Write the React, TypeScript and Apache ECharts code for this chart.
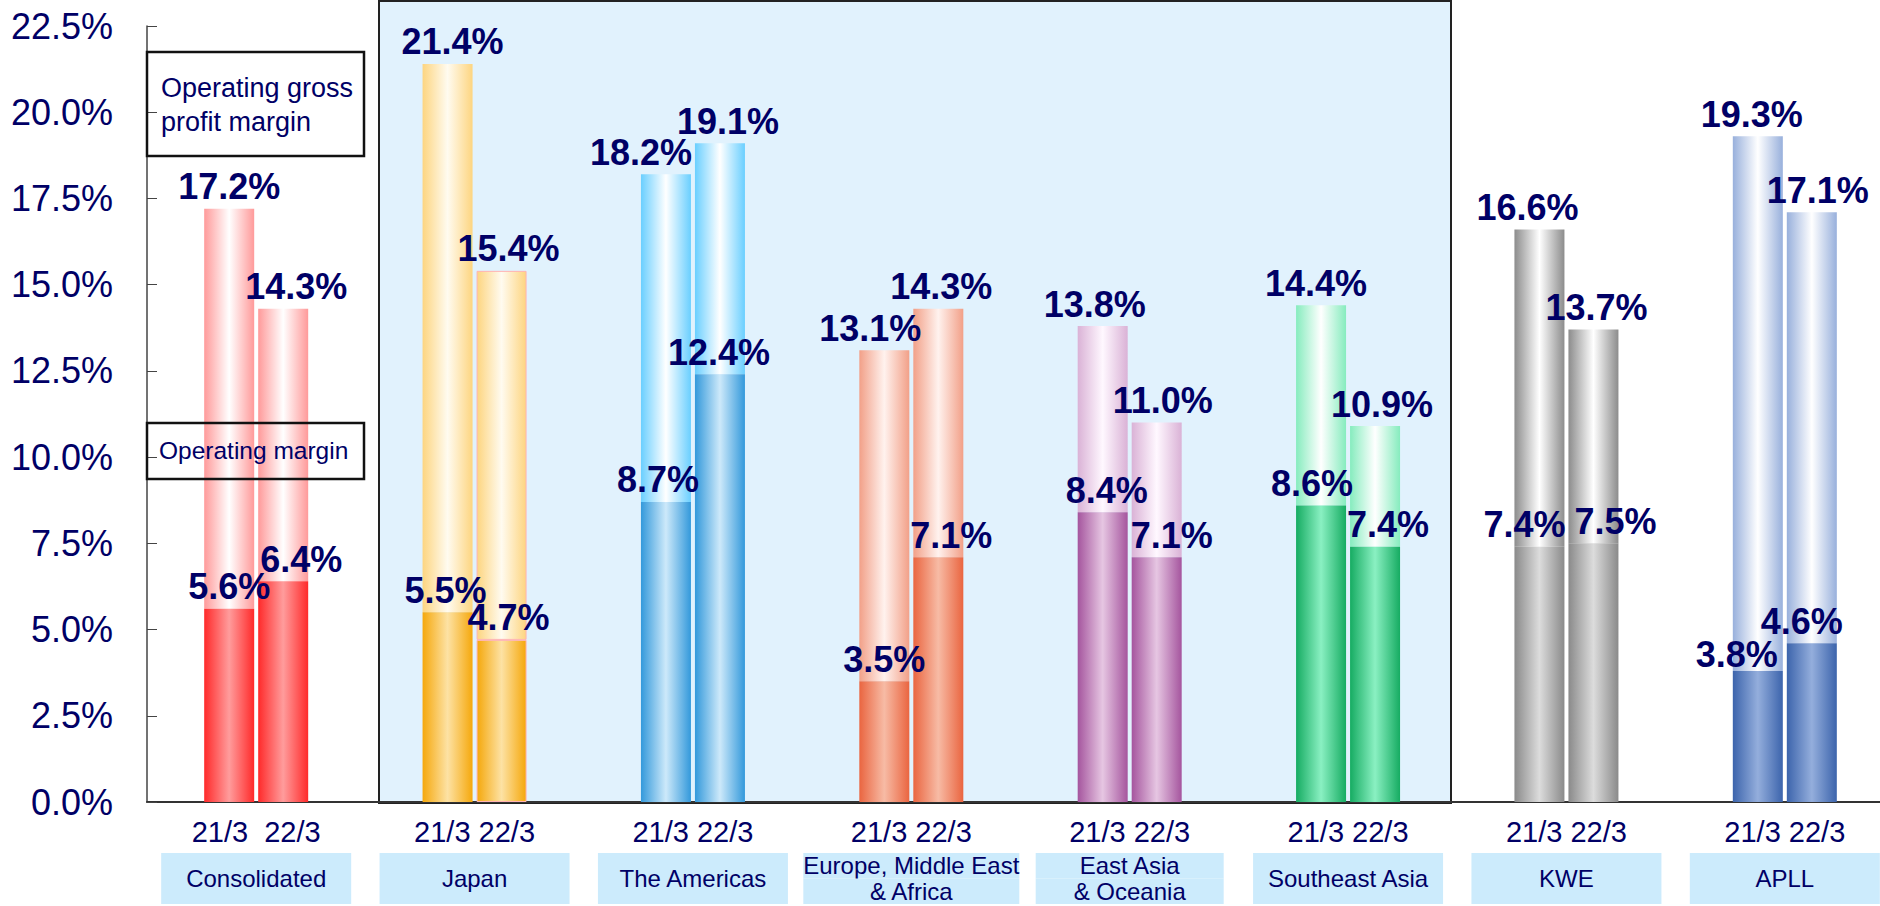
import React, { useEffect, useRef } from "react";
import * as echarts from "echarts";

const categories = [
  "Consolidated",
  "Japan",
  "The Americas",
  "Europe, Middle East\n& Africa",
  "East Asia\n& Oceania",
  "Southeast Asia",
  "KWE",
  "APLL",
];
const periods = ["21/3", "22/3"];
const grossMargin21 = [17.2, 21.4, 18.2, 13.1, 13.8, 14.4, 16.6, 19.3];
const grossMargin22 = [14.3, 15.4, 19.1, 14.3, 11.0, 10.9, 13.7, 17.1];
const opMargin21 = [5.6, 5.5, 8.7, 3.5, 8.4, 8.6, 7.4, 3.8];
const opMargin22 = [6.4, 4.7, 12.4, 7.1, 7.1, 7.4, 7.5, 4.6];
const yTicks = { min: 0, max: 22.5, interval: 2.5 };

// style palettes (edge colour, centre highlight)
const darkColors = [
  ["#FF2A2A", "#FF9C9C"],
  ["#F5A80C", "#FDE2A4"],
  ["#3399DB", "#CDE9FA"],
  ["#EA6540", "#F7BBA5"],
  ["#A5559E", "#E6C6E2"],
  ["#16AC62", "#8AF0C2"],
  ["#8A8A8A", "#DCDCDC"],
  ["#3C64AC", "#94AEDC"],
];
const lightColors = [
  ["#FF9A9A", "#FFFFFF"],
  ["#FDD580", "#FFFBF0"],
  ["#6ACFFF", "#FFFFFF"],
  ["#F2A088", "#FFF2EE"],
  ["#DAB2D6", "#FFF8FF"],
  ["#86ECBE", "#FFFFFF"],
  ["#8C8C8C", "#FFFFFF"],
  ["#98B0DC", "#FFFFFF"],
];
const outline22 = [null, "#FFB3B3", null, null, null, null, null, null];

// horizontal / vertical nudges of the value labels (style only)
const shiftOm21 = [0, -2, -8, 0, 4, -9, -15, -21];
const shiftOm22 = [18, 7, -1, 13, 15, 13, 22, -10];
const liftOm21 = [0, 0, 0, 0, 0, 0, 0, 6];
const shiftTop21 = [0, 5, -25, -14, -8, -5, -12, -6];
const shiftTop22 = [13, 7, 8, 3, 6, 7, 3, 6];

const NAVY = "#000066";
const FONT = "'Liberation Sans', Arial, sans-serif";

function grad(pair: string[]) {
  return new echarts.graphic.LinearGradient(0, 0, 1, 0, [
    { offset: 0, color: pair[0] },
    { offset: 0.5, color: pair[1] },
    { offset: 1, color: pair[0] },
  ]);
}

function itemData(
  values: number[],
  palette: string[][],
  shifts: number[],
  lifts?: number[],
  outline?: (string | null)[]
) {
  return values.map((v, i) => ({
    value: +v.toFixed(2),
    itemStyle: {
      color: grad(palette[i]),
      borderColor: outline && outline[i] ? outline[i] : undefined,
      borderWidth: outline && outline[i] ? 1 : 0,
    },
    label: { offset: [shifts[i], lifts ? lifts[i] : 0] },
  }));
}

const labelBase = {
  show: true,
  position: "top" as const,
  distance: 4,
  fontSize: 36,
  fontWeight: "bold" as const,
  color: NAVY,
  fontFamily: FONT,
};

export default function App() {
  const ref = useRef<HTMLDivElement>(null);

  useEffect(() => {
    if (!ref.current) return;
    const chart = echarts.init(ref.current, null, { renderer: "svg" });

    const top21 = grossMargin21.map((g, i) => g - opMargin21[i]);
    const top22 = grossMargin22.map((g, i) => g - opMargin22[i]);

    chart.setOption({
      animation: false,
      textStyle: { fontFamily: FONT },
      grid: { left: 147, top: 26, bottom: 104, width: 1747 },
      xAxis: {
        type: "category",
        data: categories,
        axisLine: { show: true, lineStyle: { color: "#333", width: 2 } },
        axisTick: { show: false },
        axisLabel: {
          interval: 0,
          margin: 9,
          formatter: (value: string, idx: number) => {
            const sep = idx === 0 ? "  " : " ";
            const lines = value.split("\n");
            let box: string;
            if (lines.length === 1) {
              box = `{b|${value}}`;
            } else {
              const key = lines.some((l) => l.length > 12) ? "wa" : "wb";
              box = lines.map((l) => `{${key}|${l}}`).join("\n");
            }
            return `{p|${periods.join(sep)}}\n${box}`;
          },
          rich: {
            p: { fontSize: 29, lineHeight: 42, color: NAVY, align: "center", fontFamily: FONT },
            b: {
              fontSize: 24,
              color: NAVY,
              backgroundColor: "#CCEBFC",
              width: 190,
              height: 51,
              lineHeight: 51,
              align: "center",
              fontFamily: FONT,
            },
            wa: {
              fontSize: 24,
              color: NAVY,
              backgroundColor: "#CCEBFC",
              width: 216,
              height: 25.5,
              lineHeight: 25.5,
              align: "center",
              fontFamily: FONT,
            },
            wb: {
              fontSize: 24,
              color: NAVY,
              backgroundColor: "#CCEBFC",
              width: 188,
              height: 25.5,
              lineHeight: 25.5,
              align: "center",
              fontFamily: FONT,
            },
          },
        },
      },
      yAxis: {
        type: "value",
        min: yTicks.min,
        max: yTicks.max,
        interval: yTicks.interval,
        splitLine: { show: false },
        axisLine: { show: true, lineStyle: { color: "#444", width: 1.5 } },
        axisTick: { show: true, inside: true, length: 10, lineStyle: { color: "#444" } },
        axisLabel: {
          fontSize: 36,
          color: NAVY,
          margin: 34,
          fontFamily: FONT,
          formatter: (v: number) => v.toFixed(1) + "%",
        },
      },
      graphic: [
        {
          type: "rect",
          z: -1,
          shape: { x: 379, y: 1, width: 1072, height: 802 },
          style: { fill: "#E1F2FD", stroke: "#222", lineWidth: 2 },
        },
        {
          type: "rect",
          z: 10,
          shape: { x: 147, y: 52, width: 217, height: 104 },
          style: { fill: "none", stroke: "#111", lineWidth: 2.5 },
        },
        {
          type: "text",
          z: 10,
          x: 161,
          y: 71,
          style: {
            text: "Operating gross\nprofit margin",
            fontSize: 27,
            lineHeight: 34,
            fill: NAVY,
            fontFamily: FONT,
          },
        },
        {
          type: "rect",
          z: 10,
          shape: { x: 147, y: 423, width: 217, height: 56 },
          style: { fill: "none", stroke: "#111", lineWidth: 2.5 },
        },
        {
          type: "text",
          z: 10,
          x: 159,
          y: 435,
          style: {
            text: "Operating margin",
            fontSize: 24.5,
            lineHeight: 30,
            fill: NAVY,
            fontFamily: FONT,
          },
        },
      ],
      series: [
        {
          name: "Operating margin 21/3",
          type: "bar",
          stack: "s21",
          z: 3,
          barWidth: 50,
          barGap: "8%",
          data: itemData(opMargin21, darkColors, shiftOm21, liftOm21),
          label: { ...labelBase, formatter: (p: any) => opMargin21[p.dataIndex].toFixed(1) + "%" },
        },
        {
          name: "Operating gross profit margin 21/3",
          type: "bar",
          stack: "s21",
          z: 2,
          barWidth: 50,
          barGap: "8%",
          data: itemData(top21, lightColors, shiftTop21),
          label: { ...labelBase, formatter: (p: any) => grossMargin21[p.dataIndex].toFixed(1) + "%" },
        },
        {
          name: "Operating margin 22/3",
          type: "bar",
          stack: "s22",
          z: 3,
          barWidth: 50,
          barGap: "8%",
          data: itemData(opMargin22, darkColors, shiftOm22, undefined, outline22),
          label: { ...labelBase, formatter: (p: any) => opMargin22[p.dataIndex].toFixed(1) + "%" },
        },
        {
          name: "Operating gross profit margin 22/3",
          type: "bar",
          stack: "s22",
          z: 2,
          barWidth: 50,
          barGap: "8%",
          data: itemData(top22, lightColors, shiftTop22, undefined, outline22),
          label: { ...labelBase, formatter: (p: any) => grossMargin22[p.dataIndex].toFixed(1) + "%" },
        },
      ],
    });

    return () => chart.dispose();
  }, []);

  return (
    <div
      style={{
        position: "absolute",
        left: 0,
        top: 0,
        width: 1880,
        height: 906,
        overflow: "hidden",
        background: "#fff",
      }}
    >
      <div ref={ref} style={{ width: 1900, height: 906 }} />
    </div>
  );
}
